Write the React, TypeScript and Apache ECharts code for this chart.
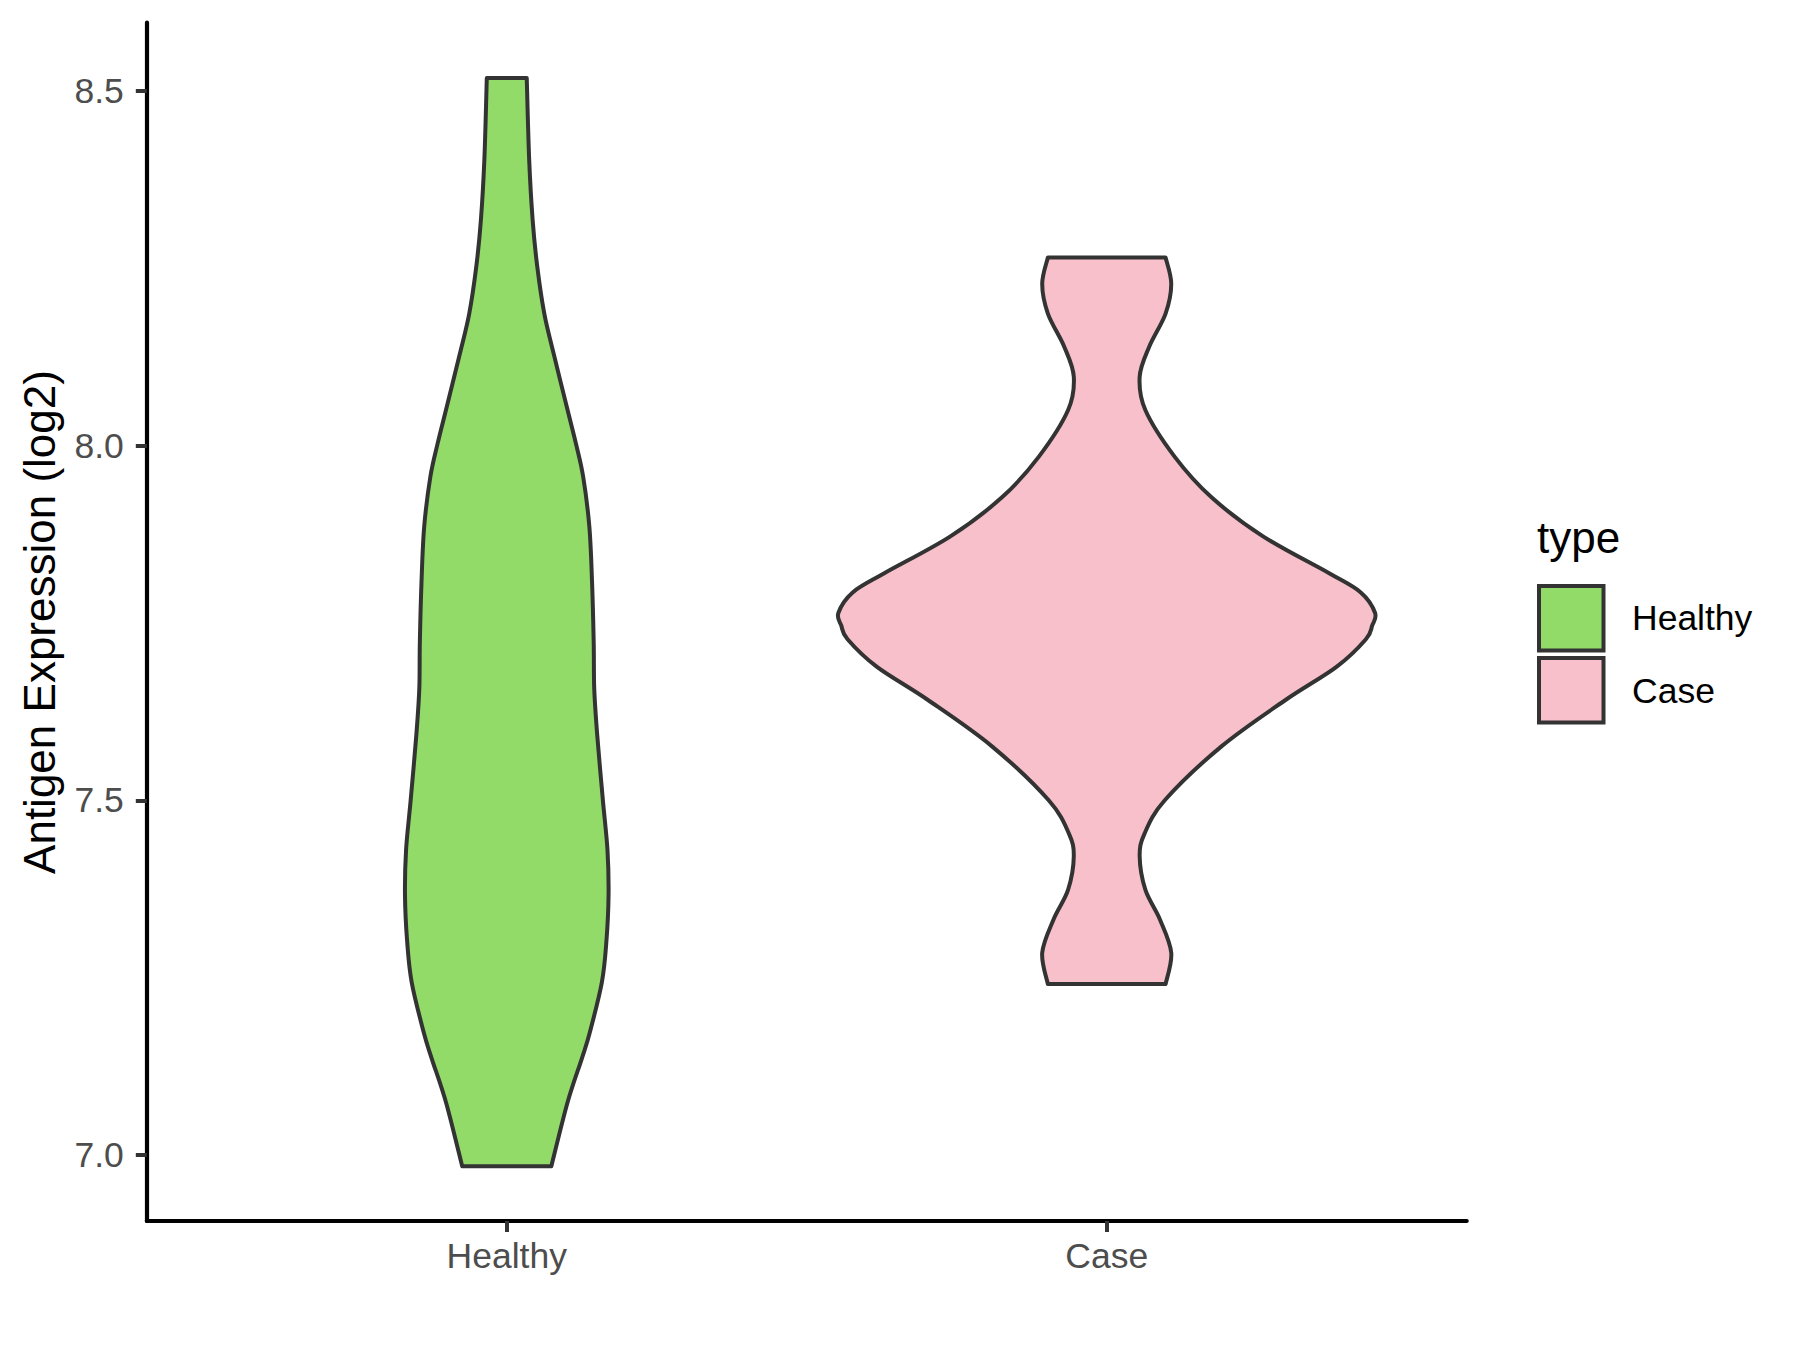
import React, { useEffect, useRef } from "react";
import * as echarts from "echarts";

// ---- data ----
const categories = ["Healthy", "Case"];
const fillColors = ["#93DB69", "#F8C0CB"];
const yTicks = [7.0, 7.5, 8.0, 8.5];

// Violin outline: y values (top to bottom) and relative half-widths (1 = widest)
const healthyValues = [8.518, 8.403, 8.317, 8.252, 8.186, 8.129, 8.055, 8.003, 7.956, 7.885, 7.806, 7.722, 7.657, 7.592, 7.5, 7.43, 7.366, 7.301, 7.243, 7.172, 7.136, 7.074, 6.984];
const healthyWidths = [0.074, 0.083, 0.096, 0.113, 0.139, 0.174, 0.222, 0.256, 0.283, 0.306, 0.316, 0.322, 0.324, 0.335, 0.356, 0.373, 0.377, 0.369, 0.352, 0.307, 0.278, 0.225, 0.165];

const caseValues = [8.265, 8.228, 8.186, 8.139, 8.097, 8.05, 7.984, 7.927, 7.872, 7.82, 7.793, 7.764, 7.746, 7.727, 7.688, 7.641, 7.576, 7.5, 7.453, 7.421, 7.374, 7.332, 7.285, 7.241];
const caseWidths = [0.218, 0.239, 0.218, 0.157, 0.122, 0.143, 0.252, 0.388, 0.579, 0.824, 0.941, 0.994, 0.983, 0.96, 0.851, 0.661, 0.425, 0.215, 0.14, 0.122, 0.143, 0.197, 0.239, 0.218];

const profiles = [
  { values: healthyValues, widths: healthyWidths },
  { values: caseValues, widths: caseWidths },
];

const FONT = "'Liberation Sans', Arial, sans-serif";
const MAX_HALF = 0.45;

function curveThrough(pts: number[][]): string {
  // Catmull-Rom spline through pts, starting at pts[0] (already moved to)
  let d = "";
  for (let i = 0; i < pts.length - 1; i++) {
    const p0 = pts[Math.max(0, i - 1)];
    const p1 = pts[i];
    const p2 = pts[i + 1];
    const p3 = pts[Math.min(pts.length - 1, i + 2)];
    const c1x = p1[0] + (p2[0] - p0[0]) / 6;
    const c1y = p1[1] + (p2[1] - p0[1]) / 6;
    const c2x = p2[0] - (p3[0] - p1[0]) / 6;
    const c2y = p2[1] - (p3[1] - p1[1]) / 6;
    d += ` C ${c1x} ${c1y} ${c2x} ${c2y} ${p2[0]} ${p2[1]}`;
  }
  return d;
}

export default function App() {
  const ref = useRef<HTMLDivElement>(null);

  useEffect(() => {
    if (!ref.current) return;
    const chart = echarts.init(ref.current, null, { renderer: "svg" });

    const axisLabelStyle = { fontSize: 35.5, color: "#4D4D4D", fontFamily: FONT };

    const option: any = {
      animation: false,
      backgroundColor: "#FFFFFF",
      grid: { left: 146.8, right: 333.3, top: 22.7, bottom: 129, containLabel: false },
      xAxis: {
        type: "value",
        min: 0.4,
        max: 2.6,
        splitLine: { show: false },
        axisLine: { show: true, onZero: false, lineStyle: { color: "#000000", width: 4.2 } },
        axisTick: { show: true, customValues: [1, 2], length: 11, lineStyle: { color: "#333333", width: 4 } },
        axisLabel: {
          show: true,
          customValues: [1, 2],
          formatter: (v: number) => categories[Math.round(v) - 1] ?? "",
          margin: 17,
          ...axisLabelStyle,
        },
      },
      yAxis: {
        type: "value",
        min: 6.907,
        max: 8.596,
        splitLine: { show: false },
        axisLine: { show: true, onZero: false, lineStyle: { color: "#000000", width: 4.2 } },
        axisTick: { show: true, customValues: yTicks, length: 11, lineStyle: { color: "#333333", width: 4 } },
        axisLabel: {
          show: true,
          customValues: yTicks,
          formatter: (v: number) => v.toFixed(1),
          margin: 23,
          ...axisLabelStyle,
        },
      },
      series: [
        {
          type: "custom",
          coordinateSystem: "cartesian2d",
          data: categories.map((c, i) => [i + 1, profiles[i].values[0]]),
          encode: { x: 0, y: 1 },
          renderItem: (params: any, api: any) => {
            const i = params.dataIndex;
            const prof = profiles[i];
            const cx = i + 1;
            const right = prof.values.map((v, k) => api.coord([cx + prof.widths[k] * MAX_HALF, v]));
            const left = prof.values.map((v, k) => api.coord([cx - prof.widths[k] * MAX_HALF, v]));
            const n = right.length;
            let d = `M ${left[0][0]} ${left[0][1]} L ${right[0][0]} ${right[0][1]}`;
            d += curveThrough(right);
            d += ` L ${left[n - 1][0]} ${left[n - 1][1]}`;
            d += curveThrough(left.slice().reverse());
            d += " Z";
            return {
              type: "path",
              shape: { pathData: d },
              style: {
                fill: fillColors[i],
                stroke: "#333333",
                lineWidth: 4,
                lineJoin: "round",
              },
            };
          },
        },
      ],
      graphic: [
        {
          type: "text",
          x: 39,
          y: 622,
          rotation: Math.PI / 2,
          style: {
            text: "Antigen Expression (log2)",
            fontSize: 44,
            fontFamily: FONT,
            fill: "#000000",
            align: "center",
            verticalAlign: "middle",
          },
        },
        {
          type: "text",
          x: 1537,
          y: 537.6,
          style: { text: "type", fontSize: 44, fontFamily: FONT, fill: "#000000", align: "left", verticalAlign: "middle" },
        },
        {
          type: "rect",
          shape: { x: 1539, y: 586, width: 64.5, height: 64.5 },
          style: { fill: fillColors[0], stroke: "#333333", lineWidth: 4 },
        },
        {
          type: "rect",
          shape: { x: 1539, y: 658, width: 64.5, height: 64.5 },
          style: { fill: fillColors[1], stroke: "#333333", lineWidth: 4 },
        },
        {
          type: "text",
          x: 1632,
          y: 617.6,
          style: { text: categories[0], fontSize: 35.5, fontFamily: FONT, fill: "#000000", align: "left", verticalAlign: "middle" },
        },
        {
          type: "text",
          x: 1632,
          y: 690.6,
          style: { text: categories[1], fontSize: 35.5, fontFamily: FONT, fill: "#000000", align: "left", verticalAlign: "middle" },
        },
      ],
    };

    chart.setOption(option);
    return () => chart.dispose();
  }, []);

  return (
    <div
      ref={ref}
      style={{ position: "absolute", left: 0, top: 0, width: 1800, height: 1350, background: "#FFFFFF" }}
    />
  );
}
